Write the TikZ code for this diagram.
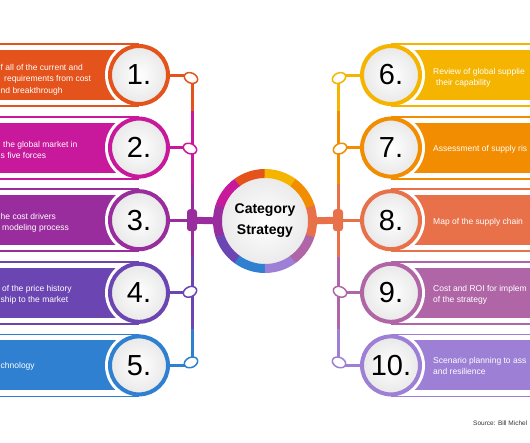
\documentclass[tikz,border=0pt]{standalone}
\usepackage{fontspec}
\setmainfont{Liberation Sans}
\usetikzlibrary{calc,shapes.geometric}
\definecolor{c1}{HTML}{E4531B}
\definecolor{c2}{HTML}{C8189B}
\definecolor{c3}{HTML}{9A2D9E}
\definecolor{c4}{HTML}{6B46B2}
\definecolor{c5}{HTML}{2F80D1}
\definecolor{c6}{HTML}{F4B400}
\definecolor{c7}{HTML}{F28C00}
\definecolor{c8}{HTML}{E8714A}
\definecolor{c9}{HTML}{B066A6}
\definecolor{c10}{HTML}{9D80D6}
\tikzset{
  numcircle/.style={circle, draw, line width=4pt, minimum size=58pt, inner sep=0pt,
    shading=radial, inner color=white, outer color=black!9,
    font=\fontsize{29}{29}\selectfont},
  blob/.style={ellipse, fill=white, line width=1.5pt, minimum width=14pt, minimum height=10pt, inner sep=0pt},
  lbl/.style={text=white, font=\fontsize{8.5}{10}\selectfont, inner sep=0pt, anchor=base west},
  outl/.style={line width=1.8pt},
  vline/.style={line width=3pt},
}
\begin{document}
\begin{tikzpicture}[x=1pt,y=-1pt]
\useasboundingbox (0,0) rectangle (530,442);
\clip (0,0) rectangle (530,442);
% left rows
\foreach \i/\y in {1/75,2/147.6,3/220.2,4/292.8,5/365.4}{
  \fill[c\i] (-5,\y-25) rectangle (139,\y+25);
  \fill[white] (139,\y) circle (34);
  \draw[c\i, outl] (-5,\y-31) -- (139,\y-31) (-5,\y+31) -- (139,\y+31);
  \coordinate (J\i) at (192,\y);
}
% right rows
\foreach \i/\y in {6/75,7/147.6,8/220.2,9/292.8,10/365.4}{
  \fill[c\i] (391,\y-25) rectangle (535,\y+25);
  \fill[white] (391,\y) circle (34);
  \draw[c\i, outl] (391,\y-31) -- (535,\y-31) (391,\y+31) -- (535,\y+31);
  \coordinate (J\i) at (338,\y);
}
% vertical lines
\draw[c1, vline] (J1) -- ($(J1)!0.5!(J2)$);
\draw[c2, vline] ($(J1)!0.5!(J2)$) -- ($(J2)!0.5!(J3)$);
\draw[c3, vline] ($(J2)!0.5!(J3)$) -- ($(J3)!0.5!(J4)$);
\draw[c4, vline] ($(J3)!0.5!(J4)$) -- ($(J4)!0.5!(J5)$);
\draw[c5, vline] ($(J4)!0.5!(J5)$) -- (J5);
\draw[c6, vline] (J6) -- ($(J6)!0.5!(J7)$);
\draw[c7, vline] ($(J6)!0.5!(J7)$) -- ($(J7)!0.5!(J8)$);
\draw[c8, vline] ($(J7)!0.5!(J8)$) -- ($(J8)!0.5!(J9)$);
\draw[c9, vline] ($(J8)!0.5!(J9)$) -- ($(J9)!0.5!(J10)$);
\draw[c10, vline] ($(J9)!0.5!(J10)$) -- (J10);
% number circles
\foreach \i in {1,...,5}{
  \node[numcircle, draw=c\i] (L\i) at ($(J\i)+(-53,0)$) {\i.};
  \draw[c\i, vline] (L\i.east) -- (J\i);
}
\foreach \i in {6,...,10}{
  \node[numcircle, draw=c\i] (L\i) at ($(J\i)+(53,0)$) {\i.};
  \draw[c\i, vline] (L\i.west) -- (J\i);
}
% elbows / knobs
\node[blob, draw=c1, rotate=-25] (B1) at ($(J1)+(-1,3)$) {};
\node[blob, draw=c2, rotate=-25] (B2) at ($(J2)+(-2,1)$) {};
\node[blob, draw=c4, rotate=25] (B4) at ($(J4)+(-2,-1)$) {};
\node[blob, draw=c5, rotate=25] (B5) at ($(J5)+(-1,-3)$) {};
\node[blob, draw=c6, rotate=25] (B6) at ($(J6)+(1,3)$) {};
\node[blob, draw=c7, rotate=25] (B7) at ($(J7)+(2,1)$) {};
\node[blob, draw=c9, rotate=-25] (B9) at ($(J9)+(2,-1)$) {};
\node[blob, draw=c10, rotate=-25] (B10) at ($(J10)+(1,-3)$) {};
% center
\node[circle, minimum size=86pt, inner sep=0pt, shading=radial, inner color=white, outer color=black!8,
  font=\bfseries\fontsize{14}{21}\selectfont, align=center] (C) at (265,221) {Category\\Strategy};
\foreach \a/\c in {-90/c1,-126/c2,-162/c3,-198/c4,-234/c5,-270/c10,-306/c9,-342/c8,-378/c7,-414/c6}{
  \draw[\c, line width=9pt] (C.center) ++(\a:47.5) arc[start angle=\a, end angle=\a-36.5, radius=47.5];
}
\draw[c3, line width=7pt] (J3) -- (C.west);
\draw[c8, line width=7pt] (J8) -- (C.east);
\node[fill=c3, rounded corners=3pt, minimum width=10pt, minimum height=22pt, inner sep=0pt] (K3) at (J3) {};
\node[fill=c8, rounded corners=3pt, minimum width=10pt, minimum height=22pt, inner sep=0pt] (K8) at (J8) {};
% left texts
\node[lbl] (t1a) at (0.5,70) {f all of the current and};
\node[lbl] (t1b) at (4,81.5) {requirements from cost};
\node[lbl] (t1c) at (0.5,93) {nd breakthrough};
\node[lbl] (t2a) at (3,147) {the global market in};
\node[lbl] (t2b) at (0.5,158.5) {s five forces};
\node[lbl] (t3a) at (0.5,219) {he cost drivers};
\node[lbl] (t3b) at (2,230.5) {modeling process};
\node[lbl] (t4a) at (2,291) {of the price history};
\node[lbl] (t4b) at (0.5,302.5) {ship to the market};
\node[lbl] (t5a) at (0.5,368) {chnology};
% right texts
\node[lbl] (t6a) at (433,74) {Review of global supplie};
\node[lbl] (t6b) at (436,85.5) {their capability};
\node[lbl] (t7a) at (433,151) {Assessment of supply ris};
\node[lbl] (t8a) at (433,224) {Map of the supply chain};
\node[lbl] (t9a) at (433,291) {Cost and ROI for implem};
\node[lbl] (t9b) at (433,302.5) {of the strategy};
\node[lbl] (t10a) at (433,363) {Scenario planning to ass};
\node[lbl] (t10b) at (433,374.5) {and resilience};
\node[inner sep=0pt, anchor=base west, font=\fontsize{6.5}{8}\selectfont, text=black!80] (src) at (473,425) {Source: Bill Michel};
\end{tikzpicture}
\end{document}
